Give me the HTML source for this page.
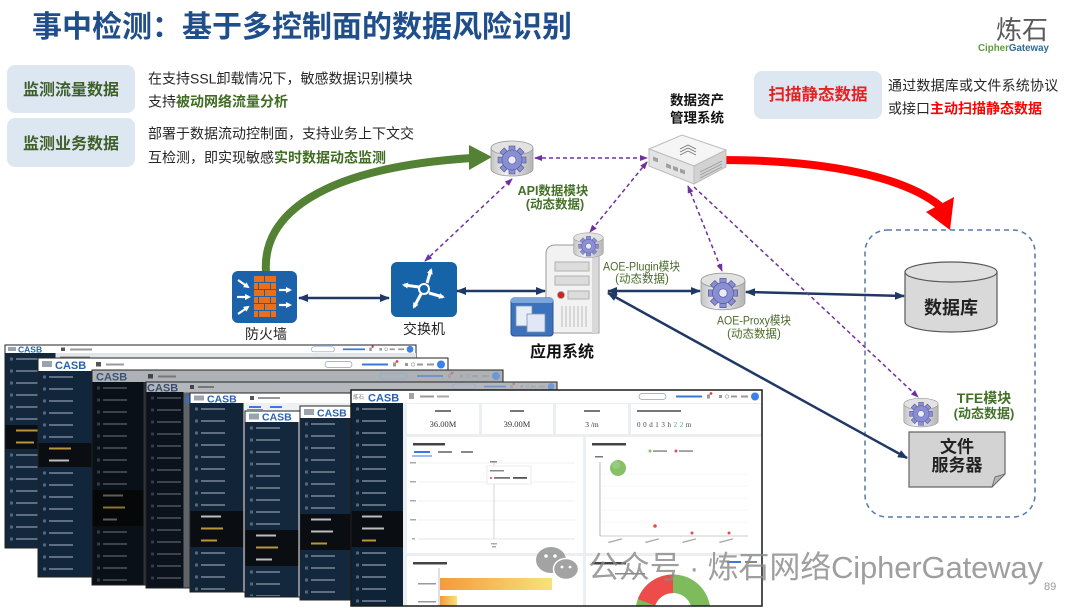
<!DOCTYPE html>
<html><head><meta charset="utf-8"><style>
html,body{margin:0;padding:0;background:#fff;width:1080px;height:608px;overflow:hidden;}
svg{display:block;}
</style></head><body>
<svg width="1080" height="608" viewBox="0 0 1080 608" xmlns="http://www.w3.org/2000/svg" font-family="'Liberation Sans','Noto Sans CJK SC',sans-serif" overflow="hidden">
<defs>
<pattern id="pm" width="100" height="12" patternUnits="userSpaceOnUse"><rect x="5" y="4.5" width="3" height="3" fill="#56667a"/><rect x="11" y="5" width="24" height="2" fill="#5f6e80"/></pattern>
<pattern id="pd" width="100" height="12" patternUnits="userSpaceOnUse"><rect x="5" y="4.5" width="3" height="3" fill="#343c46"/><rect x="11" y="5" width="24" height="2" fill="#3b434d"/></pattern>
<marker id="an" viewBox="0 0 10 8" refX="9" refY="4" markerWidth="10" markerHeight="8" markerUnits="userSpaceOnUse" orient="auto-start-reverse"><path d="M0,0 L10,4 L0,8 z" fill="#1f3864"/></marker>
<marker id="ap" viewBox="0 0 8 6" refX="7" refY="3" markerWidth="8" markerHeight="6" markerUnits="userSpaceOnUse" orient="auto-start-reverse"><path d="M0,0 L8,3 L0,6 z" fill="#7030a0"/></marker>
<marker id="aw" viewBox="0 0 6 6" refX="4" refY="3" markerWidth="6" markerHeight="6" markerUnits="userSpaceOnUse" orient="auto"><path d="M0,0 L6,3 L0,6 z" fill="#fff"/></marker>
<linearGradient id="cylG" x1="0" x2="1" y1="0" y2="0"><stop offset="0" stop-color="#c4c4c4"/><stop offset="0.35" stop-color="#f0f0f0"/><stop offset="1" stop-color="#b5b5b5"/></linearGradient>
<linearGradient id="barG" x1="0" x2="1"><stop offset="0" stop-color="#f59a3c"/><stop offset="1" stop-color="#f7e27a"/></linearGradient>
<symbol id="gear" viewBox="0 0 44 38">
<path d="M1,8 v21 a21,7 0 0 0 42,0 v-21 z" fill="url(#cylG)" stroke="#9a9a9a" stroke-width="0.8"/>
<ellipse cx="22" cy="8" rx="21" ry="7" fill="#e2e2e2" stroke="#9a9a9a" stroke-width="0.8"/>
<g transform="translate(22,20)" fill="#8a8ed2" stroke="#4d5296" stroke-width="0.6">
<rect x="-3" y="-14" width="6" height="6"/>
<rect x="-3" y="-14" width="6" height="6" transform="rotate(45)"/>
<rect x="-3" y="-14" width="6" height="6" transform="rotate(90)"/>
<rect x="-3" y="-14" width="6" height="6" transform="rotate(135)"/>
<rect x="-3" y="-14" width="6" height="6" transform="rotate(180)"/>
<rect x="-3" y="-14" width="6" height="6" transform="rotate(225)"/>
<rect x="-3" y="-14" width="6" height="6" transform="rotate(270)"/>
<rect x="-3" y="-14" width="6" height="6" transform="rotate(315)"/>
<circle r="10"/>
<circle r="4" fill="#ececf4"/>
</g>
</symbol>
<g id="hr">
<rect x="-123" y="-3" width="27" height="6" rx="3" fill="none" stroke="#7aa2dc" stroke-width="0.7"/>
<rect x="-86" y="-1" width="26" height="2" fill="#3a78d8"/>
<rect x="-55" y="-2" width="3" height="4" fill="#999"/><circle cx="-51" cy="-3" r="1.4" fill="#e04040"/>
<rect x="-43" y="-1.5" width="3" height="3" fill="#999"/>
<circle cx="-35" cy="0" r="1.7" fill="none" stroke="#999" stroke-width="0.6"/>
<rect x="-31" y="-1" width="6" height="2" fill="#999"/>
<rect x="-21" y="-1" width="7" height="2" fill="#999"/>
<circle cx="-7" cy="0" r="4" fill="#3c82e6"/>
</g>
</defs>

<rect width="1080" height="608" fill="#fff"/>

<!-- Title -->
<text x="32" y="37" font-size="30" font-weight="bold" fill="#1f4e8a">事中检测：基于多控制面的数据风险识别</text>
<!-- Logo -->
<text x="996" y="39" font-size="26" fill="#5a5a5a">炼石</text>
<text x="978" y="51" font-size="10.5" font-weight="bold" textLength="71" lengthAdjust="spacingAndGlyphs"><tspan fill="#5c9d3a">Cipher</tspan><tspan fill="#2f6b9a">Gateway</tspan></text>

<!-- Left boxes -->
<rect x="7" y="65" width="128" height="48" rx="8" fill="#dde7f2"/>
<text x="71" y="95" font-size="16" font-weight="bold" fill="#3f5f2a" text-anchor="middle">监测流量数据</text>
<rect x="7" y="118" width="128" height="49" rx="8" fill="#dde7f2"/>
<text x="71" y="149" font-size="16" font-weight="bold" fill="#3f5f2a" text-anchor="middle">监测业务数据</text>
<text x="148" y="83.5" font-size="14" fill="#262626">在支持SSL卸载情况下，敏感数据识别模块</text>
<text x="148" y="106.5" font-size="14" fill="#262626">支持<tspan font-weight="bold" fill="#3f6d22">被动网络流量分析</tspan></text>
<text x="148" y="138.5" font-size="14" fill="#262626">部署于数据流动控制面，支持业务上下文交</text>
<text x="148" y="162.5" font-size="14" fill="#262626">互检测，即实现敏感<tspan font-weight="bold" fill="#3f6d22">实时数据动态监测</tspan></text>

<!-- Right box -->
<rect x="754" y="71" width="128" height="48" rx="8" fill="#dde7f2"/>
<text x="818" y="100" font-size="16.5" font-weight="bold" fill="#e52222" text-anchor="middle">扫描静态数据</text>
<text x="888" y="90.5" font-size="14" fill="#262626" letter-spacing="0.2">通过数据库或文件系统协议</text>
<text x="888" y="113.5" font-size="14" fill="#262626">或接口<tspan font-weight="bold" fill="#ff0000">主动扫描静态数据</tspan></text>

<text x="697" y="105" font-size="13.5" font-weight="bold" fill="#111" text-anchor="middle">数据资产</text>
<text x="697" y="122.5" font-size="13.5" font-weight="bold" fill="#111" text-anchor="middle">管理系统</text>

<!-- Green arc -->
<path d="M266,272 C 262,215 320,168 472,158" fill="none" stroke="#548235" stroke-width="8"/>
<polygon points="469,145 492,157 469,170" fill="#548235"/>
<!-- Red arc -->
<path d="M722,160 C 830,160 905,178 940,206" fill="none" stroke="#ff0000" stroke-width="8"/>
<polygon points="926,212 954,197 950,230" fill="#ff0000"/>

<!-- Dashed group box -->
<rect x="865" y="230" width="170" height="287" rx="22" fill="none" stroke="#5579a8" stroke-width="1.5" stroke-dasharray="5 4"/>

<!-- Database -->
<path d="M905,272 v50 a46,10 0 0 0 92,0 v-50 z" fill="#d9d9d9" stroke="#595959" stroke-width="1.2"/>
<ellipse cx="951" cy="272" rx="46" ry="10" fill="#e0e0e0" stroke="#595959" stroke-width="1.2"/>
<text x="951" y="314" font-size="18" font-weight="bold" fill="#222" text-anchor="middle">数据库</text>

<!-- File server -->
<polygon points="909,432 1005,432 1005,474 992,487 909,487" fill="#d3d3d3" stroke="#666" stroke-width="1.2"/>
<polygon points="992,487 995,477 1005,474" fill="#b5b5b5" stroke="#666" stroke-width="0.8"/>
<text x="957" y="452.5" font-size="17" font-weight="bold" fill="#222" text-anchor="middle">文件</text>
<text x="957" y="471" font-size="17" font-weight="bold" fill="#222" text-anchor="middle">服务器</text>

<!-- Firewall icon -->
<rect x="232" y="271" width="65" height="52" rx="6" fill="#1b62aa"/>
<g fill="#e8701c">
<rect x="254" y="276" width="10" height="6"/><rect x="265" y="276" width="11" height="6"/>
<rect x="254" y="283" width="4" height="6"/><rect x="259" y="283" width="11" height="6"/><rect x="271" y="283" width="5" height="6"/>
<rect x="254" y="290" width="10" height="6"/><rect x="265" y="290" width="11" height="6"/>
<rect x="254" y="297" width="4" height="6"/><rect x="259" y="297" width="11" height="6"/><rect x="271" y="297" width="5" height="6"/>
<rect x="254" y="304" width="10" height="6"/><rect x="265" y="304" width="11" height="6"/>
<rect x="254" y="311" width="4" height="6"/><rect x="259" y="311" width="11" height="6"/><rect x="271" y="311" width="5" height="6"/>
</g>
<g stroke="#fff" stroke-width="2.2" marker-end="url(#aw)">
<line x1="238" y1="280" x2="248" y2="287"/>
<line x1="237" y1="297" x2="249" y2="297"/>
<line x1="238" y1="314" x2="248" y2="307"/>
<line x1="279" y1="290" x2="290" y2="290"/>
<line x1="279" y1="305" x2="290" y2="305"/>
</g>
<text x="266" y="339" font-size="14" fill="#222" text-anchor="middle">防火墙</text>

<!-- Switch icon -->
<rect x="391" y="262" width="66" height="55" rx="6" fill="#1763a8"/>
<g stroke="#fff" stroke-width="3" marker-end="url(#aw)" fill="none">
<line x1="427" y1="283" x2="431" y2="270"/>
<line x1="419" y1="287" x2="404" y2="285"/>
<line x1="429" y1="293" x2="443" y2="297"/>
<line x1="421" y1="294" x2="414" y2="307"/>
</g>
<circle cx="424" cy="289" r="5" fill="#1763a8" stroke="#fff" stroke-width="2"/>
<text x="424" y="334" font-size="14" fill="#222" text-anchor="middle">交换机</text>

<!-- App server -->
<path d="M546,254 q0,-8 8,-9 l37,0 q8,1 8,9 v79 h-53 z" fill="#f2f2f2" stroke="#9a9a9a"/>
<rect x="592" y="250" width="6" height="83" fill="#d8d8d8"/>
<rect x="555" y="262" width="34" height="9" fill="#dcdcdc" stroke="#b0b0b0"/>
<rect x="555" y="276" width="34" height="9" fill="#dcdcdc" stroke="#b0b0b0"/>
<circle cx="561" cy="295" r="3.5" fill="#d32020" stroke="#999" stroke-width="0.8"/>
<rect x="568" y="291" width="21" height="8" fill="#dcdcdc" stroke="#b0b0b0"/>
<g stroke="#bcbcbc" stroke-width="1"><line x1="562" y1="306" x2="562" y2="327"/><line x1="566" y1="306" x2="566" y2="327"/><line x1="570" y1="306" x2="570" y2="327"/><line x1="574" y1="306" x2="574" y2="327"/><line x1="578" y1="306" x2="578" y2="327"/><line x1="582" y1="306" x2="582" y2="327"/><line x1="586" y1="306" x2="586" y2="327"/></g>
<rect x="511" y="298" width="42" height="38" rx="3" fill="#3b72bb" stroke="#2b5592"/>
<rect x="511" y="298" width="42" height="5" rx="2" fill="#7aa6dc"/>
<rect x="516" y="306" width="16" height="20" fill="#e8eef7" stroke="#7d93b3" stroke-width="0.8"/>
<rect x="527" y="314" width="18" height="18" fill="#dfe8f4" stroke="#7d93b3" stroke-width="0.8"/>
<text x="562" y="357" font-size="16" font-weight="bold" fill="#111" text-anchor="middle">应用系统</text>

<!-- Appliance -->
<polygon points="649,149 682,135 726,150 694,166" fill="#f5f5f5" stroke="#bdbdbd"/>
<polygon points="649,149 694,166 694,184 649,166" fill="#e4e4e4" stroke="#bdbdbd"/>
<polygon points="694,166 726,150 726,167 694,184" fill="#d2d2d2" stroke="#bdbdbd"/>
<path d="M680,149 l8,-4 l8,4 M680,152 l8,-4 l8,4 M680,155 l8,-4 l8,4" fill="none" stroke="#777" stroke-width="0.9"/>
<g transform="translate(649,149) skewY(20.3)" fill="#a0a0a0"><rect x="4" y="6" width="5" height="4"/><rect x="17" y="8" width="5" height="4"/><rect x="24" y="8" width="5" height="4"/><rect x="31" y="8" width="5" height="4"/></g>
<g stroke="#9a9a9a" stroke-width="0.8"><line x1="700" y1="172" x2="722" y2="161"/><line x1="700" y1="175" x2="722" y2="164"/><line x1="700" y1="178" x2="722" y2="167"/></g>

<!-- Gears -->
<use href="#gear" x="490" y="140" width="44" height="38"/>
<use href="#gear" x="573" y="232" width="31" height="27"/>
<use href="#gear" x="700" y="272" width="46" height="40"/>
<use href="#gear" x="903" y="397" width="36" height="32"/>

<!-- Labels -->
<text x="553" y="195" font-size="12.5" font-weight="bold" fill="#45702a" text-anchor="middle">API数据模块</text>
<text x="555" y="208.5" font-size="12.5" font-weight="bold" fill="#45702a" text-anchor="middle">(动态数据)</text>
<text x="603" y="270.5" font-size="12" fill="#4b6b2b" textLength="77" lengthAdjust="spacingAndGlyphs">AOE-Plugin模块</text>
<text x="642" y="282.5" font-size="11.5" fill="#4b6b2b" text-anchor="middle">(动态数据)</text>
<text x="717" y="324.5" font-size="12" fill="#4b6b2b" textLength="74" lengthAdjust="spacingAndGlyphs">AOE-Proxy模块</text>
<text x="754" y="337.5" font-size="11.5" fill="#4b6b2b" text-anchor="middle">(动态数据)</text>
<text x="984" y="403" font-size="14" font-weight="bold" fill="#45702a" text-anchor="middle">TFE模块</text>
<text x="984" y="418" font-size="13" font-weight="bold" fill="#45702a" text-anchor="middle">(动态数据)</text>

<!-- Navy connectors -->
<g stroke="#1f3864" stroke-width="2.5" fill="none" marker-start="url(#an)" marker-end="url(#an)">
<line x1="299" y1="298" x2="389" y2="298"/>
<line x1="457" y1="291" x2="545" y2="291"/>
<line x1="608" y1="291" x2="700" y2="291"/>
<line x1="746" y1="292" x2="904" y2="296"/>
<line x1="608" y1="293" x2="907" y2="458"/>
</g>

<!-- Purple dashed connectors -->
<g stroke="#7030a0" stroke-width="1.5" fill="none" stroke-dasharray="4 3">
<line x1="535" y1="158" x2="647" y2="158" marker-start="url(#ap)" marker-end="url(#ap)"/>
<line x1="425" y1="261" x2="512" y2="179" marker-start="url(#ap)" marker-end="url(#ap)"/>
<line x1="647" y1="162" x2="590" y2="232" marker-start="url(#ap)" marker-end="url(#ap)"/>
<line x1="688" y1="186" x2="722" y2="271" marker-start="url(#ap)" marker-end="url(#ap)"/>
<line x1="694" y1="187" x2="918" y2="397" marker-end="url(#ap)"/>
</g>

<!-- ===== Screenshot stack ===== -->
<!-- W1 -->
<rect x="5" y="345" width="411" height="203" fill="#e9ecef" stroke="#222" stroke-width="1"/>
<rect x="5.5" y="345.5" width="410" height="8" fill="#fff"/>
<rect x="8" y="347" width="8" height="4" fill="#9aa4ae"/>
<text x="18" y="352.5" font-size="8.5" font-weight="bold" fill="#2a62b0">CASB</text>
<rect x="61" y="347.5" width="4" height="3.5" fill="#555"/><rect x="70" y="348.5" width="22" height="2" fill="#999"/>
<use href="#hr" transform="translate(416,349.3) scale(0.85)"/>
<rect x="55" y="353" width="361" height="9" fill="#e2e5e8"/><rect x="60" y="356.5" width="30" height="2" fill="#888"/>
<rect x="5.5" y="353" width="50" height="194.5" fill="#13283d"/>
<g transform="translate(5,353)"><rect x="0.5" y="0" width="50" height="194" fill="url(#pm)"/></g>
<rect x="5.5" y="425" width="50" height="24" fill="#0a0e13"/>
<rect x="16" y="429.5" width="22" height="2" fill="#b8963a"/><rect x="16" y="441.5" width="18" height="2" fill="#b8963a"/>

<!-- W2 -->
<rect x="38" y="358" width="410" height="219" fill="#e9ecef" stroke="#222" stroke-width="1"/>
<rect x="38.5" y="358.5" width="409" height="12.5" fill="#fff"/>
<rect x="42" y="361" width="10" height="6" fill="#9aa4ae"/>
<text x="55" y="369" font-size="11" font-weight="bold" fill="#2a62b0">CASB</text>
<rect x="96" y="362" width="5" height="4.5" fill="#555"/><rect x="106" y="363.5" width="18" height="2" fill="#999"/>
<use href="#hr" transform="translate(448,364.5)"/>
<rect x="38.5" y="371" width="54" height="205.5" fill="#11263a"/>
<g transform="translate(38,371)"><rect x="0.5" y="0" width="54" height="205" fill="url(#pm)"/></g>
<rect x="38.5" y="443" width="54" height="24" fill="#0a0e13"/>
<rect x="49" y="447.5" width="22" height="2" fill="#b8963a"/><rect x="49" y="459.5" width="20" height="2" fill="#bdbdbd"/>

<!-- W3 (dimmed) -->
<rect x="92" y="370" width="411" height="215" fill="#30353b" stroke="#222" stroke-width="1"/>
<rect x="92.5" y="370.5" width="410" height="11.5" fill="#aeb2b7"/>
<text x="96" y="380.5" font-size="11" font-weight="bold" fill="#3d5478">CASB</text>
<rect x="148" y="374" width="5" height="4.5" fill="#444"/><rect x="158" y="375.5" width="18" height="2" fill="#777"/>
<g opacity="0.55"><use href="#hr" transform="translate(503,376)"/></g>
<rect x="92.5" y="382" width="51" height="202.5" fill="#0a1017"/>
<g transform="translate(92,382)"><rect x="0.5" y="0" width="51" height="202" fill="url(#pd)"/></g>
<rect x="92.5" y="490" width="51" height="36" fill="#050709"/>
<rect x="103" y="494.5" width="20" height="2" fill="#5e5e5e"/><rect x="103" y="506.5" width="22" height="2" fill="#8a7434"/><rect x="103" y="518.5" width="14" height="2" fill="#5e5e5e"/>

<!-- W4 (dimmed) -->
<rect x="146" y="382" width="411" height="206" fill="#5f646a" stroke="#222" stroke-width="1"/>
<rect x="146.5" y="382.5" width="410" height="10" fill="#b4b8bd"/>
<text x="147" y="391.5" font-size="11" font-weight="bold" fill="#3a4e70">CASB</text>
<rect x="190" y="385" width="4" height="4" fill="#444"/><rect x="198" y="386" width="16" height="2" fill="#777"/>
<g opacity="0.55"><use href="#hr" transform="translate(557,386.5) scale(0.85)"/></g>
<rect x="146.5" y="392" width="37" height="195.5" fill="#0b121b"/>
<g transform="translate(146,392)"><rect x="0.5" y="0" width="37" height="195" fill="url(#pd)"/></g>
<rect x="186" y="396" width="4" height="7" fill="#3a6fc0"/>

<!-- W5 -->
<rect x="190" y="393" width="370" height="199" fill="#eef0f3" stroke="#222" stroke-width="1"/>
<rect x="190.5" y="393.5" width="369" height="9.5" fill="#fff"/>
<rect x="194" y="395.5" width="10" height="5" fill="#9aa4ae"/>
<text x="207" y="402.5" font-size="10.5" font-weight="bold" fill="#2a62b0">CASB</text>
<rect x="250" y="396" width="4" height="4" fill="#555"/><rect x="258" y="397" width="22" height="2" fill="#999"/>
<rect x="249" y="406" width="12" height="2" fill="#3a7ae0"/><rect x="270" y="406" width="12" height="2" fill="#3a7ae0"/><rect x="247" y="409" width="16" height="0.8" fill="#3a7ae0"/>
<rect x="190.5" y="403" width="53" height="188.5" fill="#122538"/>
<g transform="translate(190,403)"><rect x="0.5" y="0" width="53" height="188" fill="url(#pm)"/></g>
<rect x="190.5" y="511" width="53" height="36" fill="#0a0e13"/>
<rect x="201" y="515.5" width="20" height="2" fill="#bdbdbd"/><rect x="201" y="527.5" width="22" height="2" fill="#b8963a"/><rect x="201" y="539.5" width="16" height="2" fill="#b8963a"/>

<!-- W6 -->
<rect x="245" y="411" width="320" height="186" fill="#eef0f3" stroke="#222" stroke-width="1"/>
<rect x="245.5" y="411.5" width="319" height="11" fill="#fff"/>
<rect x="249" y="413.5" width="10" height="6" fill="#9aa4ae"/>
<text x="262" y="420.5" font-size="10.5" font-weight="bold" fill="#2a62b0">CASB</text>
<rect x="245.5" y="422" width="53" height="174.5" fill="#13283c"/>
<g transform="translate(245,422)"><rect x="0.5" y="0" width="53" height="174" fill="url(#pm)"/></g>
<rect x="245.5" y="530" width="53" height="36" fill="#0a0e13"/>
<rect x="256" y="534.5" width="20" height="2" fill="#bdbdbd"/><rect x="256" y="546.5" width="22" height="2" fill="#b8963a"/><rect x="256" y="558.5" width="16" height="2" fill="#bdbdbd"/>

<!-- W7 -->
<rect x="300" y="406" width="300" height="194" fill="#eef0f3" stroke="#222" stroke-width="1"/>
<rect x="300.5" y="406.5" width="299" height="11.5" fill="#fff"/>
<rect x="304" y="409" width="10" height="6" fill="#9aa4ae"/>
<text x="317" y="416.5" font-size="10.5" font-weight="bold" fill="#2a62b0">CASB</text>
<rect x="300.5" y="418" width="51" height="181.5" fill="#13283c"/>
<g transform="translate(300,418)"><rect x="0.5" y="0" width="51" height="181" fill="url(#pm)"/></g>
<rect x="300.5" y="514" width="51" height="36" fill="#0a0e13"/>
<rect x="311" y="518.5" width="20" height="2" fill="#bdbdbd"/><rect x="311" y="530.5" width="22" height="2" fill="#bdbdbd"/><rect x="311" y="542.5" width="16" height="2" fill="#b8963a"/>

<!-- W8 front -->
<rect x="351" y="390" width="411" height="216" fill="#eceff2"/>
<rect x="351" y="390" width="411" height="13" fill="#fff"/>
<text x="353" y="399" font-size="5.5" fill="#777">炼石</text>
<text x="368" y="401.5" font-size="11" font-weight="bold" fill="#2a62b0">CASB</text>
<rect x="409" y="393.5" width="5" height="1" fill="#444"/><rect x="409" y="395.5" width="5" height="1" fill="#444"/><rect x="409" y="397.5" width="5" height="1" fill="#444"/>
<rect x="420" y="395.5" width="14" height="2" fill="#999"/><rect x="437" y="395.5" width="12" height="2" fill="#aaa"/>
<use href="#hr" transform="translate(762,396.5)"/>
<rect x="351" y="403" width="52" height="203" fill="#0f2337"/>
<g transform="translate(351,403)"><rect x="0" y="0" width="52" height="203" fill="url(#pm)"/></g>
<rect x="351" y="511" width="52" height="36" fill="#0a0d11"/>
<rect x="362" y="515.5" width="20" height="2" fill="#bdbdbd"/><rect x="362" y="527.5" width="22" height="2" fill="#bdbdbd"/><rect x="362" y="539.5" width="14" height="2" fill="#b8963a"/>

<!-- row1 cards -->
<rect x="407" y="404" width="72" height="30" fill="#fff"/>
<rect x="482" y="404" width="71" height="30" fill="#fff"/>
<rect x="556" y="404" width="72" height="30" fill="#fff"/>
<rect x="631" y="404" width="130" height="30" fill="#fff"/>
<rect x="435" y="410" width="16" height="2" fill="#777"/>
<rect x="510" y="410" width="14" height="2" fill="#777"/>
<rect x="584" y="410" width="16" height="2" fill="#777"/>
<rect x="637" y="410" width="44" height="2" fill="#777"/>
<text x="443" y="427" font-size="8.5" fill="#333" text-anchor="middle" font-family="'Liberation Serif',serif">36.00M</text>
<text x="517" y="427" font-size="8.5" fill="#333" text-anchor="middle" font-family="'Liberation Serif',serif">39.00M</text>
<text x="592" y="427" font-size="7.5" fill="#333" text-anchor="middle" font-family="'Liberation Serif',serif">3 /m</text>
<text x="637" y="427" font-size="7" fill="#444" letter-spacing="2.6" font-family="'Liberation Serif',serif">00d13h<tspan fill="#3cb371">22</tspan>m</text>

<!-- row2 cards -->
<rect x="407" y="437" width="176" height="116" fill="#fff"/>
<rect x="586" y="437" width="175" height="116" fill="#fff"/>
<rect x="413" y="443" width="32" height="2.5" fill="#444"/>
<rect x="414" y="451" width="16" height="2" fill="#3a7ae0"/><rect x="412" y="455.5" width="20" height="1" fill="#3a7ae0"/>
<rect x="438" y="451" width="14" height="2" fill="#888"/><rect x="461" y="451" width="12" height="2" fill="#888"/>
<g stroke="#e6e6e6" stroke-width="0.6"><line x1="418" y1="463" x2="575" y2="463"/><line x1="418" y1="482" x2="575" y2="482"/><line x1="418" y1="501" x2="575" y2="501"/><line x1="418" y1="520" x2="575" y2="520"/></g>
<line x1="418" y1="539" x2="575" y2="539" stroke="#ccc" stroke-width="0.6"/>
<g fill="#aaa"><rect x="410" y="462" width="6" height="1.5"/><rect x="410" y="481" width="6" height="1.5"/><rect x="410" y="500" width="6" height="1.5"/><rect x="410" y="519" width="6" height="1.5"/><rect x="412" y="538" width="3" height="1.5"/></g>
<line x1="494" y1="462" x2="494" y2="539" stroke="#bbb" stroke-width="0.6"/>
<rect x="490" y="461" width="7" height="1.5" fill="#888"/>
<rect x="487" y="466" width="44" height="18" fill="#fff" stroke="#dedede" stroke-width="0.6"/>
<rect x="490" y="470" width="14" height="1.5" fill="#888"/>
<circle cx="491" cy="478" r="1" fill="#e04040"/><rect x="494" y="477" width="16" height="1.8" fill="#777"/><rect x="513" y="477" width="14" height="1.8" fill="#555"/>
<rect x="491" y="543" width="6" height="1.5" fill="#aaa"/><rect x="492" y="546" width="4" height="1.5" fill="#aaa"/>

<rect x="592" y="443" width="34" height="2.5" fill="#444"/>
<circle cx="650" cy="451" r="1.5" fill="#7cc36a"/><rect x="653" y="450.3" width="14" height="1.5" fill="#888"/>
<circle cx="676" cy="451" r="1.5" fill="#e04f5f"/><rect x="679" y="450.3" width="14" height="1.5" fill="#888"/>
<rect x="595" y="456" width="8" height="1.5" fill="#777"/>
<line x1="600" y1="462" x2="600" y2="536" stroke="#888" stroke-width="0.6"/>
<line x1="600" y1="536" x2="748" y2="536" stroke="#999" stroke-width="0.6"/>
<g stroke="#f0f0f0" stroke-width="0.5"><line x1="600" y1="474" x2="748" y2="474"/><line x1="600" y1="486" x2="748" y2="486"/><line x1="600" y1="498" x2="748" y2="498"/><line x1="600" y1="510" x2="748" y2="510"/><line x1="600" y1="522" x2="748" y2="522"/></g>
<circle cx="618" cy="468" r="8" fill="#86c068"/>
<circle cx="616" cy="465" r="4" fill="#a3d48a" opacity="0.6"/>
<circle cx="655" cy="526" r="1.8" fill="#e0504f"/>
<circle cx="692" cy="533" r="1.5" fill="#e0504f"/>
<circle cx="729" cy="533" r="1.5" fill="#e0504f"/>
<g fill="#aaa"><rect x="608" y="540" width="14" height="1.3" transform="rotate(-15 615 540)"/><rect x="645" y="540" width="14" height="1.3" transform="rotate(-15 652 540)"/><rect x="682" y="540" width="14" height="1.3" transform="rotate(-15 689 540)"/><rect x="719" y="540" width="14" height="1.3" transform="rotate(-15 726 540)"/></g>

<!-- row3 cards -->
<rect x="407" y="556" width="176" height="50" fill="#fff"/>
<rect x="586" y="556" width="175" height="50" fill="#fff"/>
<rect x="413" y="562" width="34" height="2.5" fill="#444"/>
<line x1="439" y1="568" x2="439" y2="606" stroke="#999" stroke-width="0.6"/>
<rect x="440" y="578" width="112" height="12" fill="url(#barG)"/>
<rect x="440" y="596" width="17" height="10" fill="url(#barG)"/>
<rect x="418" y="583" width="18" height="1.5" fill="#999"/><rect x="418" y="601" width="18" height="1.5" fill="#999"/>
<rect x="592" y="562" width="34" height="2.5" fill="#444"/>
<rect x="727" y="561" width="14" height="2" fill="#3a7ae0"/><rect x="745" y="561" width="12" height="2" fill="#888"/>
<rect x="615" y="573" width="30" height="1.5" fill="#888"/>
<!-- donut (visible part only) -->
<path d="M635.98,606 A37.5,37.5 0 0 1 710.02,606 L691.03,606 A19,19 0 0 0 654.97,606 Z" fill="#7dbb5c"/>
<path d="M637.76,599.17 A37.5,37.5 0 0 1 673,574.5 L673,593 A19,19 0 0 0 655.15,605.5 Z" fill="#ee4b4b"/>
<rect x="351" y="390" width="411" height="216" fill="none" stroke="#1a1a1a" stroke-width="1.5"/>

<!-- Watermark -->
<g opacity="0.82">
<ellipse cx="551" cy="560" rx="15" ry="13" fill="#8f8f8f"/>
<ellipse cx="566" cy="569" rx="12.5" ry="10.5" fill="#8f8f8f" stroke="#fff" stroke-width="1.5"/>
<circle cx="546" cy="556" r="1.8" fill="#fff"/><circle cx="555" cy="556" r="1.8" fill="#fff"/>
<circle cx="562" cy="567" r="1.4" fill="#fff"/><circle cx="570" cy="567" r="1.4" fill="#fff"/>
<text x="588" y="578" font-size="31" fill="#8a8a8a" textLength="455" lengthAdjust="spacing">公众号 · 炼石网络CipherGateway</text>
</g>
<text x="1044" y="590" font-size="11" fill="#999">89</text>
</svg>
</body></html>
